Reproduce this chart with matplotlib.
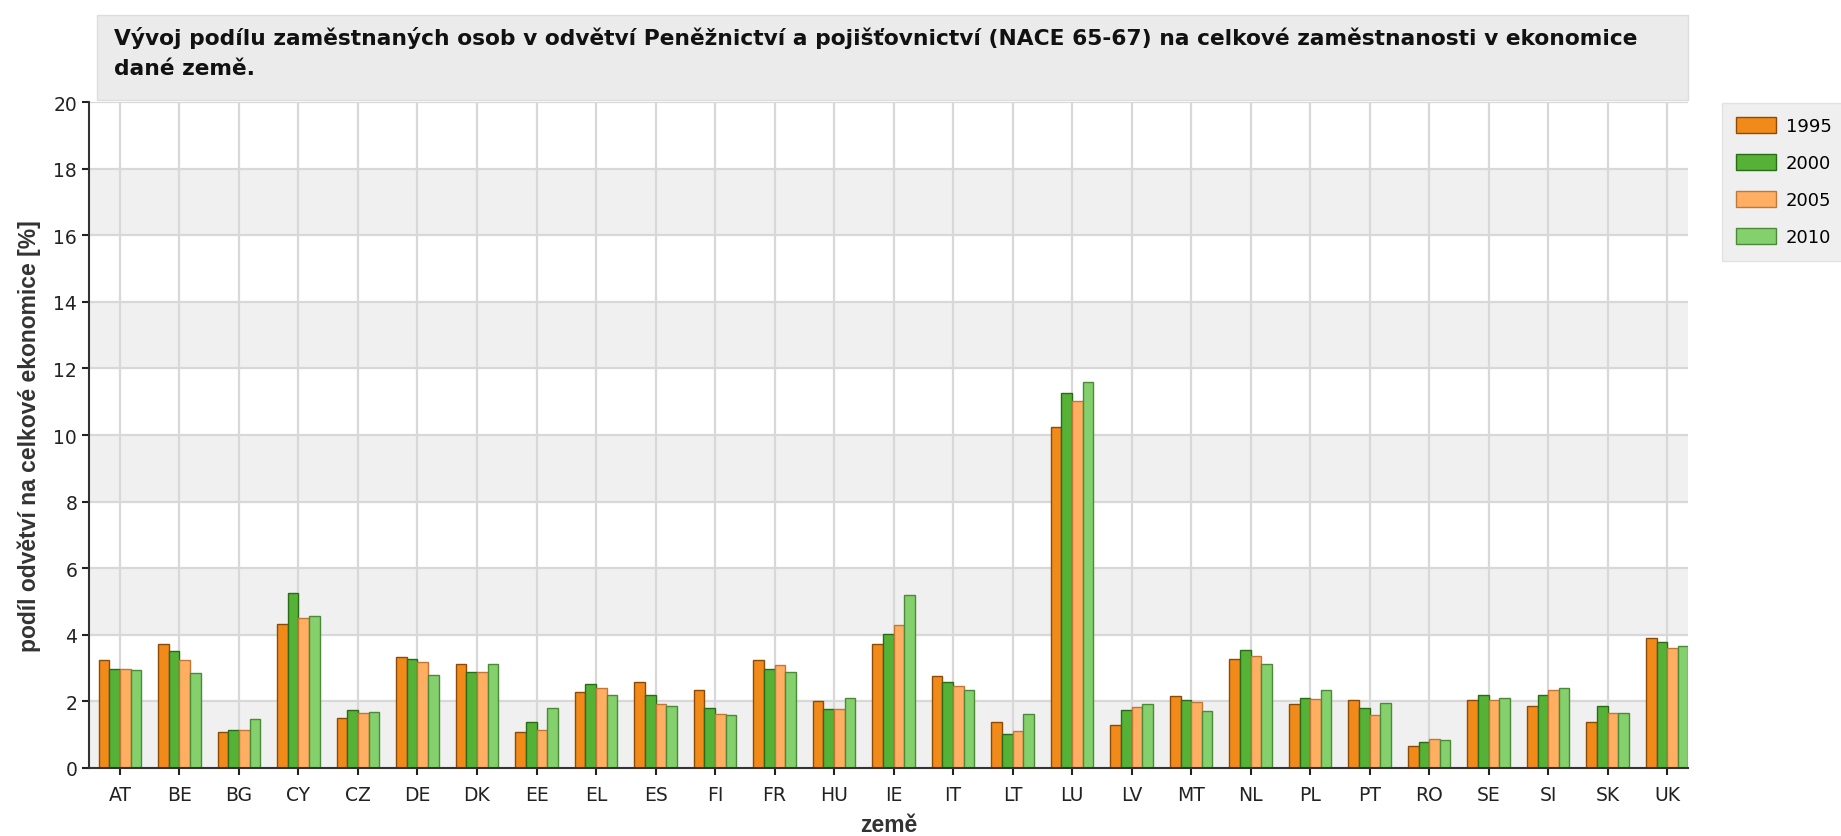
import numpy as np
import matplotlib
matplotlib.use('Agg')
import matplotlib.pyplot as plt
from matplotlib.patches import Rectangle

countries = ['AT', 'BE', 'BG', 'CY', 'CZ', 'DE', 'DK', 'EE', 'EL', 'ES', 'FI', 'FR', 'HU', 'IE',
             'IT', 'LT', 'LU', 'LV', 'MT', 'NL', 'PL', 'PT', 'RO', 'SE', 'SI', 'SK', 'UK']
years = ['1995', '2000', '2005', '2010']

v1995 = [3.25, 3.72, 1.08, 4.32, 1.51, 3.32, 3.13, 1.08, 2.29, 2.57, 2.34, 3.24, 2.00, 3.72,
         2.75, 1.37, 10.24, 1.29, 2.16, 3.26, 1.91, 2.05, 0.65, 2.03, 1.85, 1.37, 3.89]
v2000 = [2.97, 3.52, 1.13, 5.27, 1.74, 3.26, 2.88, 1.37, 2.51, 2.19, 1.80, 2.96, 1.76, 4.03,
         2.57, 1.02, 11.26, 1.73, 2.04, 3.54, 2.09, 1.79, 0.77, 2.18, 2.18, 1.86, 3.78]
v2005 = [2.97, 3.25, 1.13, 4.51, 1.66, 3.19, 2.88, 1.15, 2.41, 1.93, 1.61, 3.08, 1.78, 4.30,
         2.46, 1.10, 11.01, 1.83, 1.97, 3.37, 2.07, 1.58, 0.88, 2.04, 2.33, 1.66, 3.61]
v2010 = [2.93, 2.85, 1.48, 4.56, 1.69, 2.80, 3.13, 1.79, 2.18, 1.86, 1.58, 2.87, 2.10, 5.19,
         2.35, 1.61, 11.60, 1.92, 1.70, 3.11, 2.33, 1.94, 0.83, 2.09, 2.41, 1.64, 3.67]

series = [v1995, v2000, v2005, v2010]
colors = ['#F28A1A', '#55B236', '#FFAE62', '#84D06C']
edges = ['#8A4A08', '#2B6A18', '#C07838', '#4C8A3A']

title = ('Vývoj podílu zaměstnaných osob v odvětví Peněžnictví a pojišťovnictví (NACE 65-67) '
         'na celkové zaměstnanosti v ekonomice\ndané země.')

plt.rcParams['font.family'] = ['DejaVu Sans']

fig = plt.figure(figsize=(18.41, 8.37), dpi=100)
W, H = 1841, 837

# title box
fig.patches.append(Rectangle((97 / W, 1 - 101 / H), (1688 - 97) / W, (101 - 16) / H,
                             transform=fig.transFigure, facecolor='#EBEBEB',
                             edgecolor='#DDDDDD', lw=1))
fig.text(114 / W, 1 - 53 / H, title, fontsize=15.7, fontweight='bold', color='#111111',
         va='center', ha='left', linespacing=1.65)

ax = fig.add_axes([89 / W, 1 - 769 / H, (1688 - 89) / W, (769 - 103) / H])

x = np.arange(len(countries))
bw = 0.178
for i, (vals, c, e) in enumerate(zip(series, colors, edges)):
    ax.bar(x + (i - 1.5) * bw, vals, bw, color=c, edgecolor=e, linewidth=1,
           label=years[i], zorder=3)

for lo in range(0, 20, 4):
    ax.axhspan(lo, lo + 2, color='#F0F0F0', zorder=0, lw=0)
for yv in range(2, 21, 2):
    ax.axhline(yv, color='#D8D8D8', lw=1.6, zorder=1)
for xv in x:
    ax.axvline(xv, color='#D8D8D8', lw=1.6, zorder=1)

ax.set_xlim(-0.52, 26.35)
ax.set_ylim(0, 20)
ax.set_yticks(range(0, 21, 2))
ax.set_xticks(x)
ax.set_xticklabels(countries)
ax.tick_params(axis='both', labelsize=13.5, colors='#222222', length=5, width=1.5)
ax.tick_params(axis='x', pad=7)
for s in ['top', 'right']:
    ax.spines[s].set_visible(False)
for s in ['left', 'bottom']:
    ax.spines[s].set_color('#333333')
    ax.spines[s].set_linewidth(1.5)
    ax.spines[s].set_zorder(4)

ax.set_ylabel('podíl odvětví na celkové ekonomice [%]', fontsize=16.5, fontweight='bold',
              family='Liberation Sans', color='#333333', labelpad=9)
ax.set_xlabel('země', fontsize=16.5, fontweight='bold', family='Liberation Sans',
              color='#333333', labelpad=7)

leg = fig.legend(loc='upper left', bbox_to_anchor=(1722 / W, 1 - 104 / H),
                 borderaxespad=0, fontsize=13, frameon=True, fancybox=False,
                 facecolor='#EBEBEB', edgecolor='#DDDDDD', handlelength=2.2,
                 handleheight=0.95, labelspacing=1.05, borderpad=0.8,
                 handletextpad=0.55)
leg.get_frame().set_linewidth(1)

fig.savefig('out.png', dpi=100)
